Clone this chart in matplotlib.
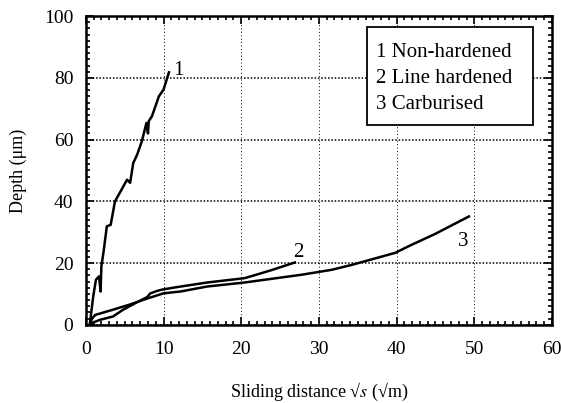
import matplotlib
matplotlib.use("Agg")
import matplotlib.pyplot as plt
from matplotlib.ticker import MultipleLocator
from matplotlib.patches import Rectangle

plt.rcParams['font.family'] = ['Liberation Serif', 'DejaVu Serif']
plt.rcParams['mathtext.fontset'] = 'stix'

# Curve 1: Non-hardened
x1 = [0.5, 0.95, 1.3, 1.7, 1.9, 2.0, 2.3, 2.7, 3.2, 3.75, 4.6, 5.3, 5.7, 6.1, 6.6, 7.2, 7.8, 8.0, 8.1, 8.5, 9.4, 10.0, 10.7]
y1 = [0.0, 9.2, 14.6, 15.7, 10.8, 18.9, 24.0, 31.9, 32.4, 40.0, 43.8, 47.0, 46.0, 52.4, 55.1, 59.4, 65.4, 62.0, 66.0, 67.5, 74.0, 76.2, 81.8]

# Curve 2: Line hardened
x2 = [0.5, 1.0, 1.8, 3.5, 4.8, 6.5, 7.9, 8.3, 9.2, 10.0, 12.2, 15.6, 20.4, 21.5, 24.0, 26.9]
y2 = [0.0, 0.8, 1.6, 2.7, 4.9, 7.2, 9.0, 10.2, 11.0, 11.5, 12.4, 13.7, 15.1, 15.9, 17.8, 20.2]

# Curve 3: Carburised
x3 = [0.5, 0.8, 1.2, 3.5, 5.7, 8.0, 10.0, 12.2, 15.6, 20.4, 27.7, 31.6, 34.2, 39.8, 41.5, 42.0, 45.0, 49.3]
y3 = [0.0, 2.0, 3.2, 4.9, 6.6, 8.6, 10.2, 10.8, 12.4, 13.7, 16.2, 17.8, 19.4, 23.3, 25.4, 26.0, 29.5, 35.1]

labels = ['1', '2', '3']
label_pos = [(11.9, 82.5), (27.3, 23.5), (48.6, 27.0)]
legend_lines = ['1 Non-hardened', '2 Line hardened', '3 Carburised']

fig = plt.figure(figsize=(5.61, 4.03), dpi=100)
ax = fig.add_axes([0.153, 0.194, 0.831, 0.766])

for xs, ys in [(x1, y1), (x2, y2), (x3, y3)]:
    ax.plot(xs, ys, color='black', lw=1.8, solid_joinstyle='round')

for lab, (lx, ly) in zip(labels, label_pos):
    ax.text(lx, ly, lab, fontsize=15, ha='center', va='center')

ax.set_xlim(0, 60)
ax.set_ylim(0, 100)
ax.xaxis.set_major_locator(MultipleLocator(10))
ax.xaxis.set_minor_locator(MultipleLocator(1))
ax.yaxis.set_major_locator(MultipleLocator(20))
ax.yaxis.set_minor_locator(MultipleLocator(2))
ax.tick_params(which='both', direction='in', top=True, right=True, labelsize=14, width=1.2)
ax.tick_params(which='major', length=6)
ax.tick_params(axis='x', which='major', pad=12)
ax.tick_params(axis='y', which='major', pad=9)
ax.tick_params(which='minor', length=3)
for s in ax.spines.values():
    s.set_linewidth(1.8)

ax.grid(True, which='major', axis='y', color='black', linestyle=(0, (1, 1.2)), lw=1.1)
ax.grid(True, which='major', axis='x', color='black', linestyle=(0, (1, 2.5)), lw=0.7)

ax.set_xlabel('Sliding distance \u221a$\\mathit{s}$ (\u221am)', fontsize=13, labelpad=16)
ax.set_ylabel('Depth (\u03bcm)', fontsize=13, labelpad=12)

# legend box
box = Rectangle((36.2, 64.6), 21.3, 31.8, facecolor='white', edgecolor='black', lw=1.3, zorder=5)
ax.add_patch(box)
for i, t in enumerate(legend_lines):
    ax.text(37.3, 88.3 - i * 8.4, t, fontsize=15, va='center', ha='left', zorder=6)

fig.savefig('out.png', dpi=100)
